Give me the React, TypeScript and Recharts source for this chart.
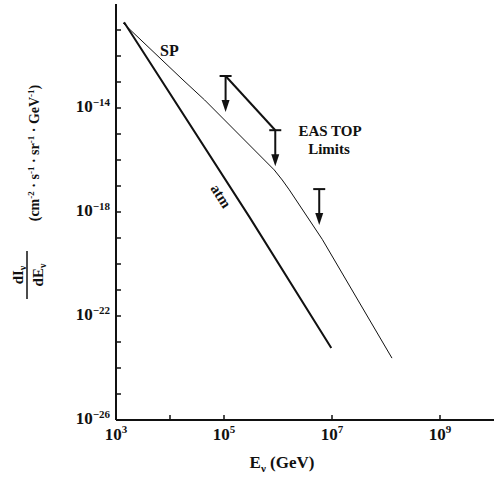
import React from 'react'
import {
  ComposedChart,
  Line,
  Scatter,
  XAxis,
  YAxis
} from 'recharts'

// energies in GeV, fluxes in cm^-2 s^-1 sr^-1 GeV^-1
const spEnergy = [1.35e3, 1.74e4, 4.37e4, 8.5e5, 1.2e6, 1.62e6, 6.6e6, 1.29e8]
const spFlux = [1.86e-11, 1.2e-13, 2.04e-14, 4.17e-17, 1.7e-17, 7.1e-18, 8.9e-20, 2.4e-24]

const atmEnergy = [1.41e3, 2.95e5, 9.7e6]
const atmFlux = [2.0e-11, 6.5e-19, 5.9e-24]

const limitEnergy = [1.07e5, 8.9e5, 5.8e6]
const limitFlux = [1.7e-13, 1.4e-15, 7.6e-18]

const xTicks = [1e3, 1e4, 1e5, 1e6, 1e7, 1e8, 1e9]
const yTicks = [
  1e-26, 1e-25, 1e-24, 1e-23, 1e-22, 1e-21, 1e-20, 1e-19,
  1e-18, 1e-17, 1e-16, 1e-15, 1e-14, 1e-13, 1e-12, 1e-11
]

const spData = spEnergy.map((e, i) => ({ e, flux: spFlux[i] }))
const atmData = atmEnergy.map((e, i) => ({ e, flux: atmFlux[i] }))
const limitData = limitEnergy.map((e, i) => ({ e, flux: limitFlux[i] }))
// the first two limits are joined by a line
const limitLine = limitData.slice(0, 2)

const INK = '#111'
const FONT = '"Liberation Serif", "DejaVu Serif", serif'

const XTick = (props: any) => {
  const { x, y, payload } = props
  const exp = Math.round(Math.log10(payload.value))
  return (
    <g>
      <line x1={x} x2={x} y1={y} y2={y - 5} stroke={INK} strokeWidth={1.5} />
      {exp % 2 === 1 && (
        <text x={x} y={y + 20} textAnchor="middle" fontFamily={FONT} fontWeight={700} fontSize={17} fill={INK}>
          <tspan>10</tspan>
          <tspan dy={-7} fontSize={11}>{exp}</tspan>
        </text>
      )}
    </g>
  )
}

const YTick = (props: any) => {
  const { x, y, payload } = props
  const exp = Math.round(Math.log10(payload.value))
  const show = (exp + 26) % 4 === 0
  return (
    <g>
      <line x1={x} x2={x + 5} y1={y} y2={y} stroke={INK} strokeWidth={1.5} />
      {show && (
        <text x={x - 6} y={y + 4} textAnchor="end" fontFamily={FONT} fontWeight={700} fontSize={17} fill={INK}>
          <tspan>10</tspan>
          <tspan dy={-6} fontSize={11}>{'\u2212' + Math.abs(exp)}</tspan>
        </text>
      )}
    </g>
  )
}

const LimitArrow = (props: any) => {
  const { cx, cy } = props
  return (
    <g>
      <line x1={cx - 6} x2={cx + 6} y1={cy} y2={cy} stroke={INK} strokeWidth={2} />
      <line x1={cx} x2={cx} y1={cy} y2={cy + 26} stroke={INK} strokeWidth={2} />
      <polygon points={`${cx - 4},${cy + 24} ${cx + 4},${cy + 24} ${cx},${cy + 36}`} fill={INK} />
    </g>
  )
}

const textProps = { fontFamily: FONT, fontWeight: 700, fill: INK }

export default function App() {
  return (
    <div style={{ position: 'absolute', left: 0, top: 0, width: 494, height: 483, background: '#fff' }}>
      <ComposedChart width={494} height={483} margin={{ top: 4, right: 0, bottom: 0, left: 0 }}>
        <XAxis
          dataKey="e"
          type="number"
          scale="log"
          domain={[1e3, 1e10]}
          allowDataOverflow
          ticks={xTicks}
          tick={<XTick />}
          tickLine={false}
          tickSize={0}
          tickMargin={0}
          height={63}
          axisLine={{ stroke: INK, strokeWidth: 2 }}
        />
        <YAxis
          dataKey="flux"
          type="number"
          scale="log"
          domain={[1e-26, 1e-10]}
          allowDataOverflow
          ticks={yTicks}
          tick={<YTick />}
          tickLine={false}
          tickSize={0}
          tickMargin={0}
          width={116}
          axisLine={{ stroke: INK, strokeWidth: 2 }}
        />
        <Line data={spData} dataKey="flux" type="linear" stroke={INK} strokeWidth={1} dot={false} isAnimationActive={false} />
        <Line data={atmData} dataKey="flux" type="linear" stroke={INK} strokeWidth={2} dot={false} isAnimationActive={false} />
        <Line data={limitLine} dataKey="flux" type="linear" stroke={INK} strokeWidth={2} dot={false} isAnimationActive={false} />
        <Scatter data={limitData} dataKey="flux" shape={<LimitArrow />} isAnimationActive={false} />
      </ComposedChart>
      <svg width={494} height={483} style={{ position: 'absolute', left: 0, top: 0, pointerEvents: 'none' }}>
        <text x={160} y={56} fontSize={16} {...textProps}>SP</text>
        <text x={330} y={136} fontSize={15} textAnchor="middle" {...textProps}>EAS TOP</text>
        <text x={329} y={154} fontSize={15} textAnchor="middle" {...textProps}>Limits</text>
        <g transform="translate(221,196) rotate(57.5)">
          <text x={0} y={5} fontSize={15} textAnchor="middle" {...textProps}>atm</text>
        </g>
        <text x={282} y={468} fontSize={17} textAnchor="middle" {...textProps}>
          <tspan>E</tspan>
          <tspan dy={4} fontSize={11}>ν</tspan>
          <tspan dy={-4}> (GeV)</tspan>
        </text>
        <g transform="translate(39,153) rotate(-90)">
          <text x={0} y={0} fontSize={14} textAnchor="middle" {...textProps}>
            <tspan>(cm</tspan>
            <tspan dy={-5} fontSize={9}>-2</tspan>
            <tspan dy={5}> · s</tspan>
            <tspan dy={-5} fontSize={9}>-1</tspan>
            <tspan dy={5}> · sr</tspan>
            <tspan dy={-5} fontSize={9}>-1</tspan>
            <tspan dy={5}> · GeV</tspan>
            <tspan dy={-5} fontSize={9}>-1</tspan>
            <tspan dy={5}>)</tspan>
          </text>
        </g>
        <g transform="translate(27,275) rotate(-90)">
          <text x={0} y={-4} fontSize={15} textAnchor="middle" {...textProps}>
            <tspan>dI</tspan>
            <tspan dy={3} fontSize={10}>ν</tspan>
          </text>
          <line x1={-24} x2={24} y1={0} y2={0} stroke={INK} strokeWidth={1.5} />
          <text x={0} y={16} fontSize={15} textAnchor="middle" {...textProps}>
            <tspan>dE</tspan>
            <tspan dy={3} fontSize={10}>ν</tspan>
          </text>
        </g>
      </svg>
    </div>
  )
}
